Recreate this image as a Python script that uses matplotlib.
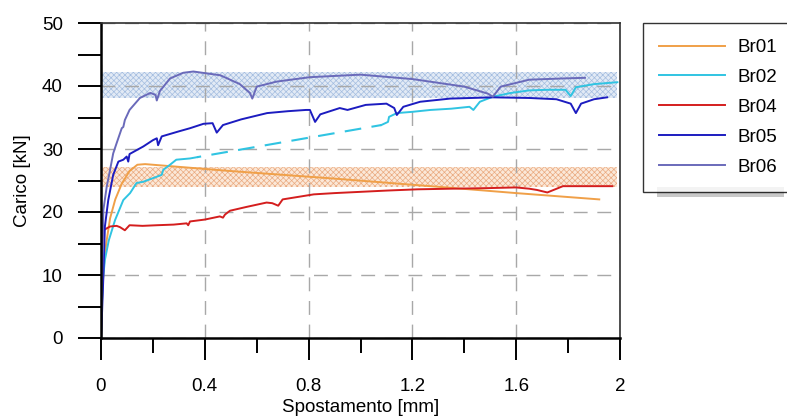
import numpy as np
import matplotlib
matplotlib.use("Agg")
import matplotlib.pyplot as plt
from matplotlib.patches import Rectangle

plt.rcParams['font.family'] = ['Liberation Sans', 'DejaVu Sans']
plt.rcParams['font.size'] = 13.5
plt.rcParams['hatch.linewidth'] = 0.5

# ---- data ----
br01_x = [0, 0.004, 0.01, 0.02, 0.035, 0.055, 0.08, 0.11, 0.14, 0.17, 0.5, 0.9, 1.3, 1.6, 1.92]
br01_y = [0, 6, 11, 15, 19, 22, 24.5, 26.5, 27.5, 27.6, 26.5, 25.3, 24.0, 23.0, 22.0]

br02_x = [0, 0.003, 0.008, 0.015, 0.03, 0.054, 0.086, 0.112, 0.137, 0.163, 0.215, 0.234,
          0.24, 0.266, 0.29, 0.343, 0.37]
br02_y = [0, 5, 9.5, 12.4, 15.5, 18.7, 21.9, 23.0, 24.6, 24.8, 25.6, 25.9,
          26.7, 27.5, 28.3, 28.5, 28.7]
br02_gap_x = [0.37, 1.08]
br02_gap_y = [28.7, 33.8]
br02_end_x = [1.08, 1.106, 1.11, 1.14, 1.2, 1.27, 1.35, 1.42, 1.435, 1.46, 1.51, 1.58,
              1.65, 1.72, 1.79, 1.81, 1.83, 1.9, 1.99]
br02_end_y = [33.8, 34.3, 35.1, 35.7, 35.9, 36.2, 36.4, 36.7, 36.2, 37.5, 38.3, 38.9,
              39.3, 39.4, 39.4, 38.4, 39.8, 40.3, 40.6]

br04_x = [0, 0.002, 0.004, 0.009, 0.035, 0.06, 0.073, 0.092, 0.11, 0.16, 0.215, 0.28,
          0.33, 0.336, 0.343, 0.40, 0.458, 0.47, 0.478, 0.497, 0.56, 0.638, 0.66, 0.683,
          0.70, 0.76, 0.82, 0.9, 1.0, 1.1, 1.22, 1.35, 1.5, 1.6, 1.65, 1.68, 1.72, 1.75,
          1.78, 1.85, 1.97]
br04_y = [0, 9, 14, 17.1, 17.7, 17.8, 17.6, 17.1, 17.9, 17.8, 17.9, 18.0,
          18.2, 17.9, 18.5, 18.8, 19.3, 19.1, 19.6, 20.2, 20.8, 21.5, 21.4, 21.0,
          22.0, 22.4, 22.8, 23.0, 23.2, 23.4, 23.6, 23.7, 23.8, 23.9, 23.7, 23.5, 23.1, 23.6,
          24.1, 24.1, 24.1]

br05_x = [0, 0.003, 0.009, 0.015, 0.028, 0.047, 0.067, 0.086, 0.099, 0.105, 0.11, 0.163,
          0.20, 0.215, 0.22, 0.234, 0.30, 0.343, 0.395, 0.43, 0.446, 0.47, 0.54, 0.64,
          0.72, 0.79, 0.805, 0.825, 0.845, 0.92, 0.95, 1.02, 1.10, 1.13, 1.14, 1.165,
          1.23, 1.345, 1.51, 1.65, 1.755, 1.81, 1.83, 1.85, 1.90, 1.95]
br05_y = [0, 2.9, 9.7, 17.7, 21.9, 25.9, 28.0, 28.3, 28.8, 28.0, 29.2, 30.4,
          31.4, 31.7, 30.6, 32.0, 32.8, 33.3, 34.0, 34.1, 32.6, 33.8, 34.7, 35.7,
          36.0, 36.2, 36.2, 34.3, 35.5, 36.5, 36.2, 37.0, 37.2, 36.5, 35.4, 36.7,
          37.5, 38.0, 38.2, 38.1, 37.9, 37.2, 35.7, 37.2, 37.9, 38.2]

br06_x = [0, 0.003, 0.009, 0.022, 0.035, 0.047, 0.06, 0.08, 0.086, 0.092, 0.11, 0.15,
          0.19, 0.21, 0.215, 0.227, 0.266, 0.317, 0.356, 0.46, 0.535, 0.574, 0.583, 0.60,
          0.677, 0.805, 1.0, 1.20, 1.40, 1.49, 1.51, 1.54, 1.65, 1.78, 1.865]
br06_y = [0, 6, 20.3, 24, 26.7, 29.3, 30.9, 33.3, 33.5, 34.6, 36.2, 38.1,
          38.9, 38.6, 37.7, 39.2, 41.2, 42.1, 42.3, 41.7, 40.3, 38.9, 38.0, 39.9,
          40.7, 41.4, 41.8, 41.1, 39.9, 38.8, 38.3, 39.9, 41.0, 41.2, 41.3]

band_x = [0, 1.99]
band_blue = [38.1, 42.2]
band_orange = [24.0, 27.1]

labels = ['Br01', 'Br02', 'Br04', 'Br05', 'Br06']
colors = ['#F0A048', '#30C4E2', '#D41E1E', '#1C1CC0', '#6A6ABA']
xticks = [0, 0.4, 0.8, 1.2, 1.6, 2.0]
xticklabels = ['0', '0.4', '0.8', '1.2', '1.6', '2']
yticks = [0, 10, 20, 30, 40, 50]

# ---- figure ----
fig = plt.figure(figsize=(7.87, 4.18), dpi=100)
ax = fig.add_axes([101/787, 80/418, 519/787, 315/418])

ax.fill_between(band_x, band_blue[0], band_blue[1], facecolor='#e2eaf5',
                edgecolor='#a4bde0', hatch='xxxxxx', linewidth=0, zorder=0.3)
ax.fill_between(band_x, band_orange[0], band_orange[1], facecolor='#fbe8d8',
                edgecolor='#eaaa80', hatch='xxxxxx', linewidth=0, zorder=0.3)

lw = 1.4
ax.plot(br01_x, br01_y, color=colors[0], lw=lw, label=labels[0])
ax.plot(br02_x, br02_y, color=colors[1], lw=lw, label=labels[1])
ax.plot(br02_gap_x, br02_gap_y, color=colors[1], lw=1.5, ls=(6, (8, 5)))
ax.plot(br02_end_x, br02_end_y, color=colors[1], lw=lw)
ax.plot(br04_x, br04_y, color=colors[2], lw=lw, label=labels[2])
ax.plot(br05_x, br05_y, color=colors[3], lw=lw, label=labels[3])
ax.plot(br06_x, br06_y, color=colors[4], lw=lw, label=labels[4])

ax.set_xlim(0, 2)
ax.set_ylim(0, 50)
ax.set_xticks(xticks)
ax.set_xticklabels(xticklabels)
ax.set_xticks([0.2, 0.6, 1.0, 1.4, 1.8], minor=True)
ax.set_yticks(yticks)
ax.set_yticks([5, 15, 25, 35, 45], minor=True)

ax.tick_params(axis='x', which='major', direction='out', length=16, width=1.4, pad=13)
ax.tick_params(axis='x', which='minor', direction='out', length=11, width=1.4)
ax.tick_params(axis='y', which='both', direction='out', length=16.5, width=1.4, pad=11)

ax.set_axisbelow(True)
ax.grid(True, which='major', color='#a8a8a8', ls=(0, (10, 7)), lw=1.0)
for sp in ['left', 'bottom']:
    ax.spines[sp].set_linewidth(1.8)
for sp in ['top', 'right']:
    ax.spines[sp].set_linewidth(1.2)
    ax.spines[sp].set_color('#303030')

ax.set_xlabel('Spostamento [mm]', labelpad=3)
ax.set_ylabel('Carico [kN]', labelpad=8)

# legend with shadow strip
fig.patches.append(Rectangle((657/787, (418-197)/418), (784-657)/787, 10/418,
                             transform=fig.transFigure, facecolor='#c8c8c8',
                             edgecolor='none', zorder=0))
leg = fig.legend(loc='upper left', bbox_to_anchor=(643/787, 1 - 23/418),
                 frameon=True, fancybox=False, shadow=False, handlelength=3.5,
                 handletextpad=0.7, labelspacing=0.68, borderpad=0.85, borderaxespad=0)
leg.get_frame().set_edgecolor('black')
leg.get_frame().set_linewidth(1.0)

fig.savefig('out.png', dpi=100)
